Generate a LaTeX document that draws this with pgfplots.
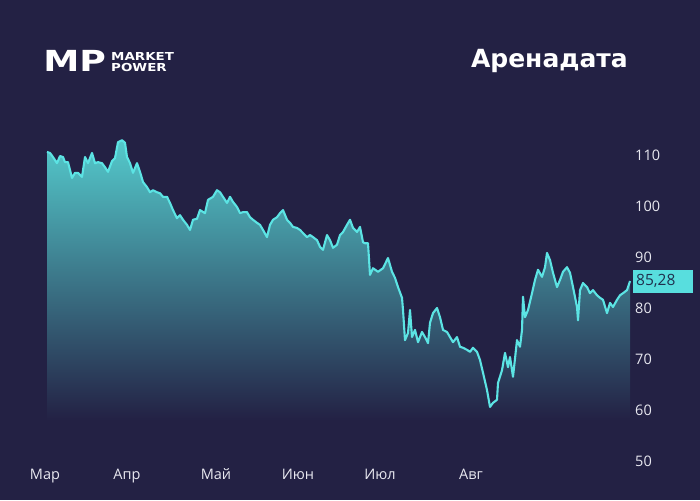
\documentclass[border=0pt]{standalone}
\usepackage{fontspec}
\setmainfont{Open Sans}
\newfontfamily\headfont{DejaVu Sans}
\usepackage{pgfplots}
\usepackage{pgfplotstable}
\pgfplotsset{compat=1.18}
\definecolor{bg}{RGB}{35,33,68}
\definecolor{linecol}{RGB}{92,228,228}
\definecolor{filltop}{RGB}{84,202,204}
\definecolor{fillmid}{RGB}{56,128,146}
\definecolor{boxcol}{RGB}{88,222,222}
\definecolor{boxtext}{RGB}{32,48,78}
\definecolor{labcol}{RGB}{232,232,240}

% x = horizontal position (trading days, pixel scale), y = price
\pgfplotstableread{
x y
47 110.6
50 110.4
53 109.6
57 108.4
60 109.8
63 109.6
65 108.6
68 108.6
72 105.5
75 106.5
78 106.5
82 105.7
85 109.6
88 108.4
92 110.4
95 108.4
98 108.6
102 108.4
105 107.6
108 106.7
112 108.8
115 109.4
118 112.5
122 112.9
125 112.4
127 109.6
130 108.4
133 106.5
137 108.4
140 106.7
143 104.7
147 103.7
150 102.7
153 103.1
157 102.7
160 102.5
163 101.8
167 101.8
170 100.6
173 99.2
177 97.6
180 98.2
183 97.3
187 96.3
190 95.3
193 97.3
197 97.5
200 99.2
205 98.6
208 101.2
213 101.8
217 103.1
220 102.7
223 101.8
227 100.6
230 101.8
233 100.8
237 99.8
240 98.6
243 98.8
247 98.8
250 97.8
253 97.3
257 96.7
260 96.3
263 95.3
267 93.9
270 96.3
273 97.3
277 97.8
280 98.6
283 99.2
287 97.3
290 96.7
293 95.9
297 95.7
300 95.3
303 94.7
307 93.9
310 94.3
313 93.9
317 93.3
320 92.0
323 91.4
327 94.3
330 93.3
333 91.8
337 92.4
340 94.3
343 94.9
347 96.3
350 97.3
353 95.7
357 94.9
360 95.9
363 92.9
365 92.7
368 92.7
370 86.5
373 87.8
378 87.1
383 87.8
388 89.8
392 87.1
395 85.9
398 84.1
402 82.0
403 79.6
405 73.7
408 75.1
410 79.6
412 74.3
415 75.7
418 73.3
422 75.3
425 74.3
428 73.1
430 77.1
433 79.0
437 80.0
440 78.2
443 75.7
447 75.3
450 74.3
453 73.3
457 74.3
460 72.4
463 72.2
467 71.8
470 71.4
473 72.2
477 71.4
480 69.8
483 67.3
487 63.9
490 60.6
493 61.4
497 62.0
498 65.3
502 67.8
505 71.2
508 68.4
510 70.4
513 66.5
517 73.7
520 72.4
522 75.7
523 82.2
525 78.2
528 79.6
532 82.9
535 85.5
538 87.5
542 86.1
545 88.0
547 90.8
550 89.4
553 86.9
557 84.1
560 85.5
563 87.1
567 88.0
570 86.9
573 84.1
577 80.2
578 77.6
580 83.5
583 84.9
587 84.1
590 82.9
593 83.5
597 82.5
600 82.0
603 81.6
607 79.0
610 81.0
613 80.2
617 81.6
620 82.5
623 82.9
627 83.5
630 85.28
}\pricedata

\begin{document}
\begin{tikzpicture}[x=1pt,y=1pt]
\fill[bg] (0,0) rectangle (700,500);

% logo
\node[anchor=base west, inner sep=0, text=white, xscale=1.25] at (43,428)
  {\headfont\bfseries\fontsize{29}{29}\selectfont MP};
\node[anchor=base west, inner sep=0, text=white, xscale=1.22] at (111,439.5)
  {\headfont\bfseries\fontsize{11}{11}\selectfont MARKET};
\node[anchor=base west, inner sep=0, text=white, xscale=1.22] at (111,428)
  {\headfont\bfseries\fontsize{11}{11}\selectfont POWER};

% title
\node[anchor=base east, inner sep=0, text=white] at (628,432)
  {\headfont\bfseries\fontsize{25}{25}\selectfont Аренадата};

\begin{axis}[
  at={(40pt,39pt)},
  scale only axis,
  width=590pt,
  height=331.5pt,
  xmin=40, xmax=630,
  ymin=50, ymax=115,
  clip=false,
  axis line style={draw=none},
  tick style={draw=none},
  ytick={50,60,70,80,90,100,110},
  ytick pos=right,
  yticklabel pos=right,
  xtick={45,127,216,298,380,471},
  xticklabels={Мар,Апр,Май,Июн,Июл,Авг},
  /pgf/number format/assume math mode=true,
  tick label style={text=labcol, font=\fontsize{14.5}{14.5}\selectfont},
  yticklabel style={anchor=west, inner sep=0pt, xshift=5pt},
  xticklabel style={anchor=base, inner sep=0pt, yshift=-18pt},
]
\addplot[draw=none, top color=filltop, middle color=fillmid, bottom color=bg]
  table[x=x, y=y] {\pricedata} -- (axis cs:630,58) -- (axis cs:47,58) -- cycle;
\addplot[linecol, line width=2.1pt, line join=round] table[x=x, y=y] {\pricedata};
\addplot[draw=none, nodes near coords={85,28},
  every node near coord/.append style={anchor=west, xshift=3pt, fill=boxcol,
    text=boxtext, inner xsep=3pt, inner ysep=0pt, text width=54pt, align=left,
    minimum height=23pt, font=\fontsize{15.5}{15.5}\selectfont}]
  coordinates {(630,85.28)};
\end{axis}
\end{tikzpicture}
\end{document}
